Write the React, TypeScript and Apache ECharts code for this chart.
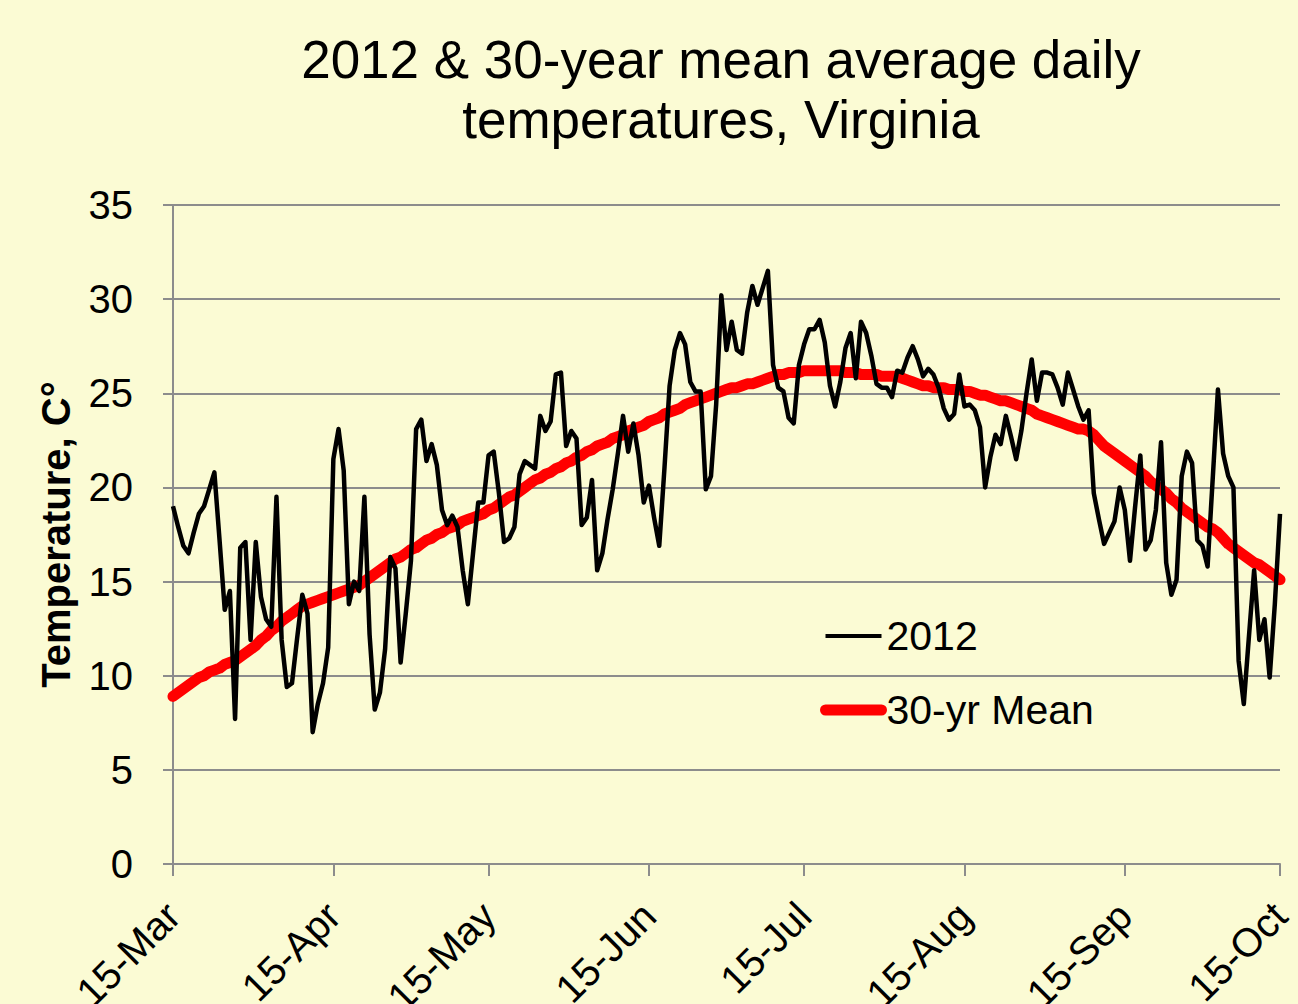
import React, { useEffect, useRef } from 'react';
import * as echarts from 'echarts';

const FONT = '"Liberation Sans", Arial, Helvetica, sans-serif';

const TITLE = '2012 & 30-year mean average daily\ntemperatures, Virginia';
const Y_NAME = 'Temperature, C°';
const SERIES_NAMES = ['2012', '30-yr Mean'];

const MONTHS = ['Mar', 'Apr', 'May', 'Jun', 'Jul', 'Aug', 'Sep', 'Oct'];
const MONTH_LENGTHS = [31, 30, 31, 30, 31, 31, 30, 31];
const Y_MIN = 0;
const Y_MAX = 35;
const Y_STEP = 5;

// daily categories 15-Mar .. 15-Oct
function buildDates(): string[] {
  const out: string[] = [];
  let m = 0;
  let d = 15;
  for (;;) {
    out.push(`${d}-${MONTHS[m]}`);
    if (m === 7 && d === 15) break;
    d++;
    if (d > MONTH_LENGTHS[m]) {
      d = 1;
      m++;
    }
  }
  return out;
}
const dates = buildDates();

const temp2012 = [
  19.0, 17.9, 16.9, 16.5, 17.6, 18.6, 19.0, 19.9, 20.8, 17.2,
  13.5, 14.5, 7.7, 16.8, 17.1, 11.9, 17.1, 14.2, 13.0, 12.6,
  19.5, 11.9, 9.4, 9.6, 12.0, 14.3, 13.3, 7.0, 8.5, 9.6,
  11.5, 21.5, 23.1, 20.9, 13.8, 15.0, 14.5, 19.5, 12.2, 8.2,
  9.1, 11.4, 16.3, 15.7, 10.7, 13.3, 16.1, 23.1, 23.6, 21.4,
  22.3, 21.2, 18.8, 18.0, 18.5, 17.9, 15.6, 13.8, 16.5, 19.2,
  19.2, 21.7, 21.9, 19.7, 17.1, 17.3, 17.9, 20.7, 21.4, 21.2,
  21.0, 23.8, 23.0, 23.5, 26.0, 26.1, 22.2, 23.0, 22.6, 18.0,
  18.4, 20.4, 15.6, 16.5, 18.3, 19.9, 21.8, 23.8, 21.9, 23.4,
  21.7, 19.2, 20.1, 18.4, 16.9, 21.0, 25.4, 27.3, 28.2, 27.6,
  25.6, 25.1, 25.1, 19.9, 20.6, 24.4, 30.2, 27.3, 28.8, 27.3,
  27.1, 29.3, 30.7, 29.7, 30.6, 31.5, 26.5, 25.3, 25.1, 23.7,
  23.4, 26.5, 27.6, 28.4, 28.4, 28.9, 27.7, 25.4, 24.3, 25.6,
  27.4, 28.2, 25.8, 28.8, 28.2, 27.0, 25.5, 25.3, 25.3, 24.8,
  26.2, 26.1, 26.9, 27.5, 26.8, 25.9, 26.3, 26.0, 25.3, 24.2,
  23.6, 23.9, 26.0, 24.3, 24.4, 24.1, 23.2, 20.0, 21.6, 22.8,
  22.3, 23.8, 22.7, 21.5, 23.0, 25.0, 26.8, 24.6, 26.1, 26.1,
  26.0, 25.3, 24.4, 26.1, 25.2, 24.3, 23.6, 24.1, 19.7, 18.3,
  17.0, 17.6, 18.2, 20.0, 18.8, 16.1, 19.0, 21.7, 16.7, 17.2,
  18.8, 22.4, 16.0, 14.3, 15.1, 20.6, 21.9, 21.3, 17.2, 16.9,
  15.8, 20.5, 25.2, 21.8, 20.6, 20.0, 10.8, 8.5, 12.1, 15.6,
  11.9, 13.0, 9.9, 13.8, 18.6,
];

const mean30yr = [
  8.9, 9.1, 9.3, 9.5, 9.7, 9.9, 10.0, 10.2, 10.3, 10.4,
  10.6, 10.7, 10.8, 11.0, 11.2, 11.4, 11.6, 11.9, 12.1, 12.4,
  12.6, 12.9, 13.1, 13.3, 13.5, 13.7, 13.8, 13.9, 14.0, 14.1,
  14.2, 14.3, 14.4, 14.5, 14.6, 14.7, 14.8, 15.0, 15.2, 15.4,
  15.6, 15.8, 16.0, 16.2, 16.3, 16.5, 16.7, 16.8, 17.0, 17.2,
  17.3, 17.5, 17.6, 17.8, 17.9, 18.0, 18.2, 18.3, 18.4, 18.5,
  18.6, 18.8, 18.9, 19.1, 19.3, 19.5, 19.6, 19.8, 20.0, 20.2,
  20.4, 20.5, 20.7, 20.8, 21.0, 21.1, 21.3, 21.4, 21.6, 21.7,
  21.9, 22.0, 22.2, 22.3, 22.4, 22.6, 22.7, 22.8, 23.0, 23.1,
  23.2, 23.3, 23.5, 23.6, 23.7, 23.9, 24.0, 24.1, 24.2, 24.4,
  24.5, 24.6, 24.7, 24.8, 24.9, 25.0, 25.1, 25.2, 25.3, 25.3,
  25.4, 25.5, 25.5, 25.6, 25.7, 25.8, 25.9, 26.0, 26.0, 26.1,
  26.1, 26.1, 26.2, 26.2, 26.2, 26.2, 26.2, 26.2, 26.2, 26.2,
  26.1, 26.1, 26.1, 26.0, 26.0, 26.0, 26.0, 25.9, 25.9, 25.9,
  25.9, 25.8, 25.7, 25.6, 25.5, 25.4, 25.4, 25.3, 25.3, 25.3,
  25.2, 25.2, 25.2, 25.1, 25.1, 25.0, 24.9, 24.9, 24.8, 24.7,
  24.6, 24.6, 24.5, 24.4, 24.3, 24.2, 24.1, 23.9, 23.8, 23.7,
  23.6, 23.5, 23.4, 23.3, 23.2, 23.1, 23.1, 23.0, 22.8, 22.5,
  22.2, 22.0, 21.8, 21.6, 21.4, 21.2, 21.0, 20.8, 20.6, 20.3,
  20.1, 19.9, 19.7, 19.4, 19.2, 18.9, 18.7, 18.5, 18.3, 18.1,
  17.9, 17.8, 17.6, 17.3, 17.0, 16.8, 16.6, 16.4, 16.2, 16.0,
  15.9, 15.7, 15.5, 15.3, 15.1,
];

const isMid = (_i: number, v: string) => String(v).startsWith('15-');

export default function App() {
  const ref = useRef<HTMLDivElement>(null);

  useEffect(() => {
    document.body.style.margin = '0';
    document.body.style.overflow = 'hidden';
    if (!ref.current) return;
    const chart = echarts.init(ref.current, undefined, { renderer: 'svg' });
    const grey = '#8c8c8c';
    chart.setOption({
      animation: false,
      backgroundColor: '#FBFBD4',
      textStyle: { fontFamily: FONT },
      graphic: [
        {
          type: 'text',
          x: 721,
          y: 29,
          style: {
            text: TITLE,
            fontFamily: FONT,
            fontSize: 53,
            lineHeight: 60,
            fill: '#000',
            textAlign: 'center',
            textVerticalAlign: 'top',
          },
        },
      ],
      grid: {
        left: 173,
        right: 18,
        top: 205,
        bottom: 140,
        containLabel: false,
        outerBoundsMode: 'none',
      },
      legend: {
        orient: 'vertical',
        left: 820,
        top: 614,
        padding: 0,
        itemWidth: 56,
        itemHeight: 14,
        itemGap: 30,
        itemStyle: { opacity: 0 },
        data: [
          { name: SERIES_NAMES[0], lineStyle: { color: '#000', width: 4 } },
          { name: SERIES_NAMES[1], lineStyle: { color: '#ff0000', width: 11, cap: 'round' } },
        ],
        textStyle: { fontSize: 41, color: '#000', fontFamily: FONT, lineHeight: 44 },
      },
      xAxis: {
        type: 'category',
        data: dates,
        boundaryGap: false,
        axisLine: { lineStyle: { color: grey, width: 2 } },
        axisTick: { interval: isMid, length: 12, lineStyle: { color: grey, width: 2 } },
        axisLabel: {
          interval: isMid,
          rotate: 45,
          fontSize: 40,
          color: '#000',
          fontFamily: FONT,
          margin: 45,
          align: 'right',
          verticalAlign: 'middle',
          padding: [25, 0, 0, 0],
        },
        splitLine: { show: false },
      },
      yAxis: {
        type: 'value',
        min: Y_MIN,
        max: Y_MAX,
        interval: Y_STEP,
        name: Y_NAME,
        nameLocation: 'middle',
        nameGap: 97,
        nameTextStyle: { fontSize: 40, fontWeight: 'bold', color: '#000', fontFamily: FONT },
        axisLine: { show: true, lineStyle: { color: grey, width: 2 } },
        axisTick: { show: true, length: 10, lineStyle: { color: grey, width: 2 } },
        axisLabel: { fontSize: 40, color: '#000', margin: 40, fontFamily: FONT },
        splitLine: { show: true, lineStyle: { color: grey, width: 2 } },
      },
      series: [
        {
          name: SERIES_NAMES[0],
          type: 'line',
          data: temp2012,
          symbol: 'none',
          z: 4,
          lineStyle: { color: '#000', width: 4.5, join: 'round' },
          itemStyle: { color: '#000' },
        },
        {
          name: SERIES_NAMES[1],
          type: 'line',
          data: mean30yr,
          symbol: 'none',
          z: 3,
          lineStyle: { color: '#ff0000', width: 11, cap: 'round', join: 'round' },
          itemStyle: { color: '#ff0000' },
        },
      ],
    });
    return () => chart.dispose();
  }, []);

  return <div ref={ref} style={{ width: 1298, height: 1004 }} />;
}
